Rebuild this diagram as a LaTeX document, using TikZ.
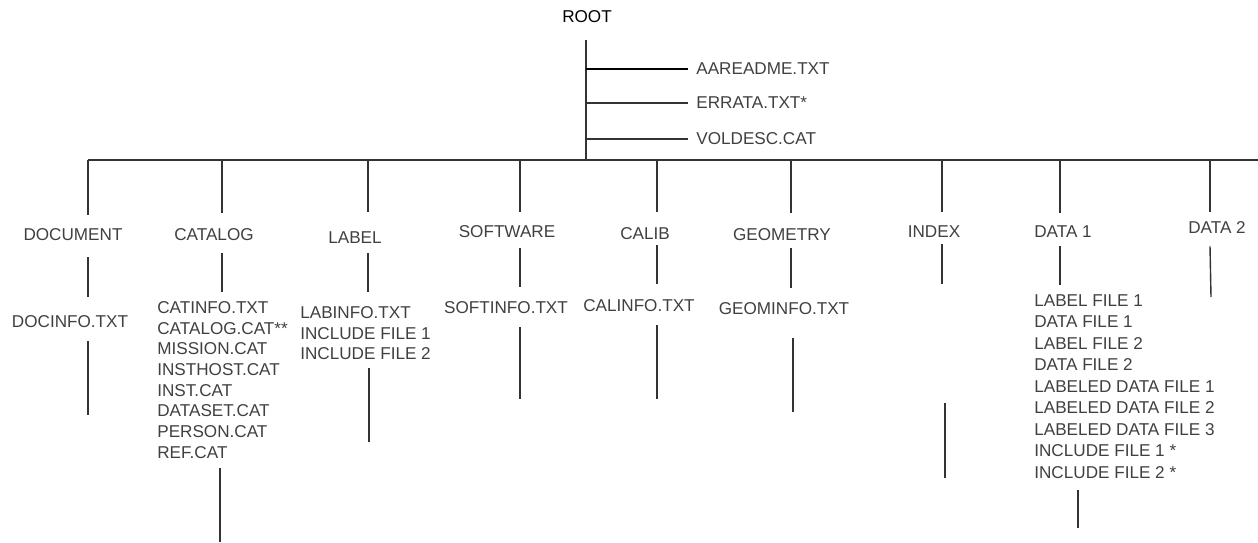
\documentclass[tikz,border=0pt]{standalone}
\usepackage{fontspec}
\setmainfont{Liberation Sans}
\usetikzlibrary{calc}
\definecolor{txtgrey}{HTML}{404040}
\definecolor{linegrey}{HTML}{333333}

\begin{document}
\begin{tikzpicture}[x=0.02cm,y=-0.02cm,
    every node/.style={inner sep=0pt,text=txtgrey,font=\fontsize{9.75}{11.8}\selectfont},
    list/.style={anchor=north west,align=left},
    conn/.style={draw=linegrey,line width=0.8pt}]
  \useasboundingbox (0,0) rectangle (1258,542);

  % root and its files
  \node[text=black] (root) at (587,17) {ROOT};
  \coordinate (rbus) at (586,160);
  \node[anchor=west] (readme) at (696,69) {AAREADME.TXT};
  \node[anchor=west] (errata) at (696,103) {ERRATA.TXT*};
  \node[anchor=west] (voldesc) at (696,139) {VOLDESC.CAT};
  \draw[conn] ($(root.south -| rbus)+(0,17)$) -- (rbus);
  \draw[conn,draw=black,line width=1.1pt] (rbus |- readme) -- ($(readme.west)+(-8,0)$);
  \draw[conn] (rbus |- errata) -- ($(errata.west)+(-8,0)$);
  \draw[conn] (rbus |- voldesc) -- ($(voldesc.west)+(-8,0)$);

  % bus
  \coordinate (b1) at (88,160);
  \coordinate (b2) at (222,160);
  \coordinate (b3) at (368,160);
  \coordinate (b4) at (520,160);
  \coordinate (b5) at (657,160);
  \coordinate (b6) at (791,160);
  \coordinate (b7) at (942,160);
  \coordinate (b8) at (1060,160);
  \coordinate (b9) at (1210,160);
  \coordinate (busend) at (1258,160);
  \draw[conn] (b1) -- (busend);

  % DOCUMENT
  \node (document) at (73,235) {DOCUMENT};
  \node (docinfo) at (70,322) {DOCINFO.TXT};
  \coordinate (docend) at (88,415);
  \draw[conn] (b1) -- ($(b1 |- document.north)+(0,-14)$);
  \draw[conn] ($(b1 |- document.south)+(0,16)$) -- ($(b1 |- docinfo.north)+(0,-19)$);
  \draw[conn] ($(b1 |- docinfo.south)+(0,13)$) -- (docend);

  % CATALOG
  \node (catalog) at (214,235) {CATALOG};
  \node[list] (catlist) at (157,301) {CATINFO.TXT\\CATALOG.CAT**\\MISSION.CAT\\INSTHOST.CAT\\INST.CAT\\DATASET.CAT\\PERSON.CAT\\REF.CAT};
  \coordinate (catend) at (220,542);
  \draw[conn] (b2) -- ($(b2 |- catalog.north)+(0,-16)$);
  \draw[conn] ($(b2 |- catalog.south)+(0,12)$) -- ($(b2 |- catlist.north)+(0,-9)$);
  \draw[conn] ($(catend |- catlist.south)+(0,9)$) -- (catend);

  % LABEL
  \node (label) at (355,238) {LABEL};
  \node[list] (lablist) at (300,306) {LABINFO.TXT\\INCLUDE FILE 1\\INCLUDE FILE 2};
  \coordinate (labend) at (369,442);
  \draw[conn] (b3) -- ($(b3 |- label.north)+(0,-20)$);
  \draw[conn] ($(b3 |- label.south)+(0,9)$) -- ($(b3 |- lablist.north)+(0,-14)$);
  \draw[conn] ($(labend |- lablist.south)+(0,8)$) -- (labend);

  % SOFTWARE
  \node (software) at (507,232) {SOFTWARE};
  \node (softinfo) at (506,308) {SOFTINFO.TXT};
  \coordinate (softend) at (520,399);
  \draw[conn] (b4) -- ($(b4 |- software.north)+(0,-14)$);
  \draw[conn] ($(b4 |- software.south)+(0,10)$) -- ($(b4 |- softinfo.north)+(0,-15)$);
  \draw[conn] ($(b4 |- softinfo.south)+(0,13)$) -- (softend);

  % CALIB
  \node (calib) at (645,234) {CALIB};
  \node (calinfo) at (639,306) {CALINFO.TXT};
  \coordinate (calend) at (657,399);
  \draw[conn] (b5) -- ($(b5 |- calib.north)+(0,-16)$);
  \draw[conn] ($(b5 |- calib.south)+(0,5)$) -- ($(b5 |- calinfo.north)+(0,-16)$);
  \draw[conn] ($(b5 |- calinfo.south)+(0,13)$) -- (calend);

  % GEOMETRY
  \node (geometry) at (782,235) {GEOMETRY};
  \node (geominfo) at (784,309) {GEOMINFO.TXT};
  \coordinate (geomend) at (793,412);
  \draw[conn] (b6) -- ($(b6 |- geometry.north)+(0,-16)$);
  \draw[conn] ($(b6 |- geometry.south)+(0,7)$) -- ($(b6 |- geominfo.north)+(0,-15)$);
  \draw[conn] ($(geomend |- geominfo.south)+(0,23)$) -- (geomend);

  % INDEX
  \node (index) at (934,232) {INDEX};
  \coordinate (idxmid) at (942,284);
  \coordinate (idxtop) at (945,403);
  \coordinate (idxend) at (945,478);
  \draw[conn] (b7) -- ($(b7 |- index.north)+(0,-14)$);
  \draw[conn] ($(b7 |- index.south)+(0,6)$) -- (idxmid);
  \draw[conn] (idxtop) -- (idxend);

  % DATA 1
  \node (data1) at (1063,232) {DATA 1};
  \node[list,font=\fontsize{9.75}{12.25}\selectfont] (datalist) at (1034,294) {LABEL FILE 1\\DATA FILE 1\\LABEL FILE 2\\DATA FILE 2\\LABELED DATA FILE 1\\LABELED DATA FILE 2\\LABELED DATA FILE 3\\INCLUDE FILE 1 *\\INCLUDE FILE 2 *};
  \coordinate (dataend) at (1078,528);
  \draw[conn] (b8) -- ($(b8 |- data1.north)+(0,-13)$);
  \draw[conn] ($(b8 |- data1.south)+(0,8)$) -- ($(b8 |- datalist.north)+(0,-9)$);
  \draw[conn] ($(dataend |- datalist.south)+(0,11)$) -- (dataend);

  % DATA 2
  \node (data2) at (1217,228) {DATA 2};
  \coordinate (data2end) at (1211,297);
  \draw[conn] (b9) -- ($(b9 |- data2.north)+(0,-10)$);
  \draw[conn] ($(b9 |- data2.south)+(0,12)$) -- (data2end);
\end{tikzpicture}
\end{document}
